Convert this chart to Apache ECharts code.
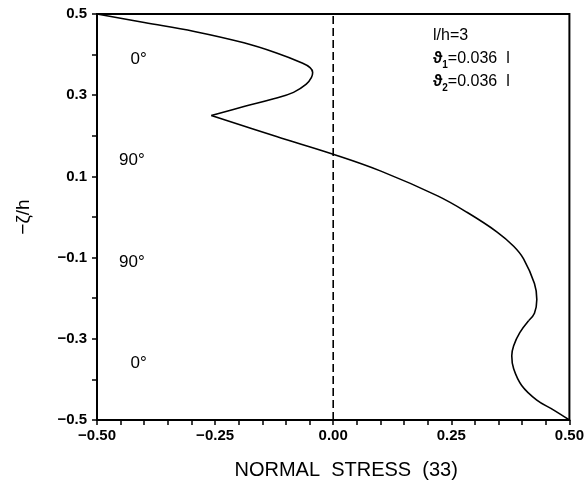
<!DOCTYPE html>
<html>
<head>
<meta charset="utf-8">
<script src="https://cdn.jsdelivr.net/npm/echarts@6/dist/echarts.min.js"></script>
<style>
html,body{margin:0;padding:0;background:#fff;}
#c{width:587px;height:485px;}
</style>
</head>
<body>
<div id="c"></div>
<script>
// Normal stress (33) vs -zeta/h
const topPly = [[-0.500,0.500],[-0.400,0.479],[-0.294,0.457],[-0.189,0.429],[-0.120,0.404],[-0.067,0.380],[-0.049,0.368],[-0.0435,0.356],[-0.046,0.344],[-0.057,0.327],[-0.084,0.307],[-0.126,0.291],[-0.189,0.272],[-0.258,0.250]];
const midPlies = [[-0.258,0.250],[-0.120,0.198],[0.000,0.1545],[0.101,0.113],[0.221,0.052],[0.284,0.011],[0.347,-0.037],[0.382,-0.072],[0.403,-0.103],[0.426,-0.164],[0.431,-0.203],[0.426,-0.237],[0.414,-0.255]];
const bottomPly = [[0.414,-0.255],[0.395,-0.285],[0.382,-0.317],[0.378,-0.342],[0.382,-0.374],[0.399,-0.415],[0.431,-0.451],[0.466,-0.475],[0.500,-0.500]];
const zeroLine = [[0,-0.5],[0,0.5]];
const plyLabels = ['0°','90°','90°','0°'];
const plyLabelPos = [[-0.412,0.388],[-0.426,0.140],[-0.426,-0.111],[-0.412,-0.361]];
const xTicks = {min:-0.5, max:0.5, step:0.25};
const yTicks = {min:-0.5, max:0.5, step:0.2};

const FONT = 'Liberation Sans';
const chart = echarts.init(document.getElementById('c'), null, {renderer:'canvas'});
const minus = s => s.replace('-', '\u2212');

const curveStyle = {color:'#000', width:1.6};
const lineSeries = (d) => ({type:'line', data:d, smooth:0.4, showSymbol:false, symbol:'none', lineStyle:curveStyle, z:3, silent:true});

chart.setOption({
  animation:false,
  backgroundColor:'#fff',
  grid:{left:97, right:14, top:14, bottom:60, show:true, borderColor:'#000', borderWidth:2, backgroundColor:'transparent'},
  xAxis:{
    type:'value', min:xTicks.min, max:xTicks.max, interval:xTicks.step,
    axisLine:{show:true, onZero:false, lineStyle:{color:'#000', width:2}},
    axisTick:{show:true, inside:false, length:5, lineStyle:{color:'#000', width:1.5}},
    minorTick:{show:true, splitNumber:5, length:5, lineStyle:{color:'#000', width:1.5}},
    splitLine:{show:false},
    axisLabel:{color:'#000', fontFamily:FONT, fontWeight:'bold', fontSize:15, margin:8,
      formatter:v => minus(v.toFixed(2))},
    name:'NORMAL  STRESS  (33)', nameLocation:'middle', nameGap:40,
    nameTextStyle:{color:'#000', fontFamily:FONT, fontSize:20, padding:[0,0,0,26]}
  },
  yAxis:{
    type:'value', min:yTicks.min, max:yTicks.max, interval:yTicks.step,
    axisLine:{show:true, onZero:false, lineStyle:{color:'#000', width:2}},
    axisTick:{show:true, inside:false, length:5, lineStyle:{color:'#000', width:1.5}},
    minorTick:{show:true, splitNumber:2, length:5, lineStyle:{color:'#000', width:1.5}},
    splitLine:{show:false},
    axisLabel:{color:'#000', fontFamily:FONT, fontWeight:'bold', fontSize:15, margin:10,
      formatter:v => minus((Math.round(v*10)/10).toFixed(1))},
    name:'\u2212\u03b6/h', nameLocation:'middle', nameRotate:90, nameGap:64,
    nameTextStyle:{color:'#000', fontFamily:FONT, fontSize:19}
  },
  series:[
    lineSeries(topPly),
    lineSeries(midPlies),
    lineSeries(bottomPly),
    {type:'line', data:zeroLine, showSymbol:false, symbol:'none', silent:true, z:2,
      lineStyle:{color:'#000', width:1.6, type:[8,4]}},
    {type:'scatter', symbolSize:1, silent:true, itemStyle:{opacity:0},
      data:plyLabelPos.map((p,i)=>({value:p, label:{formatter:plyLabels[i]}})),
      label:{show:true, position:'inside', color:'#000', opacity:1, textBorderWidth:0, fontFamily:FONT, fontSize:17}}
  ],
  graphic:[
    {type:'text', left:433, top:24, style:{
      text:'l/h=3\n{b|\u03d1}{s|1}=0.036  l\n{b|\u03d1}{s|2}=0.036  l',
      fill:'#000', font:'16px "Liberation Sans"', lineHeight:23,
      rich:{
        b:{fontFamily:FONT, fontSize:16, fontWeight:'bold', fill:'#000', lineHeight:23},
        s:{fontFamily:FONT, fontSize:10, fontWeight:'bold', fill:'#000', verticalAlign:'bottom', lineHeight:23, padding:[6,0,0,0]}
      }}}
  ]
});
</script>
</body>
</html>
